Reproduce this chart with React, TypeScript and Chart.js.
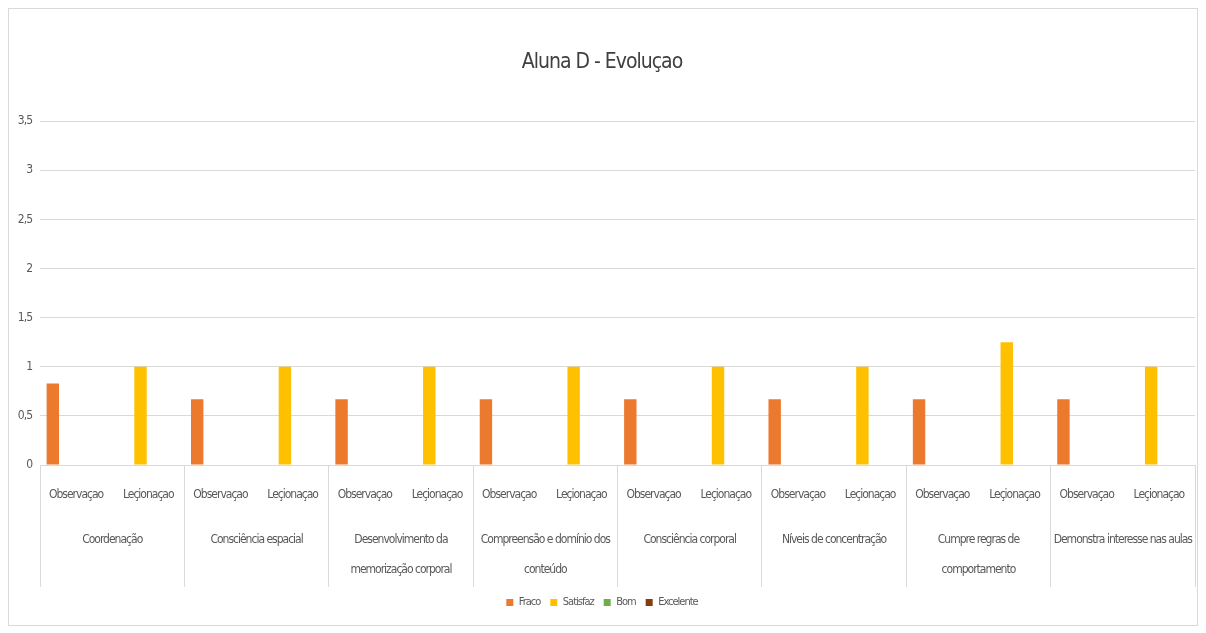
import { useEffect, useRef } from "react";
import { Chart, registerables } from "chart.js";

Chart.register(...registerables);

const chartTitle = "Aluna D - Evoluçao";
const phases = ["Observaçao", "Leçionaçao"];
const groups: (string | string[])[] = [
  "Coordenação",
  "Consciência espacial",
  ["Desenvolvimento da", "memorização corporal"],
  ["Compreensão e domínio dos", "conteúdo"],
  "Consciência corporal",
  "Níveis de concentração",
  ["Cumpre regras de", "comportamento"],
  "Demonstra interesse nas aulas",
];
const seriesNames = ["Fraco", "Satisfaz", "Bom", "Excelente"];
const seriesColors = ["#EB7A2E", "#FFC000", "#70AD47", "#843C0C"];

// one value per (group, phase) pair, in label order
const fraco = [0.83, null, 0.67, null, 0.67, null, 0.67, null, 0.67, null, 0.67, null, 0.67, null, 0.67, null];
const satisfaz = [null, 1, null, 1, null, 1, null, 1, null, 1, null, 1, null, 1.25, null, 1];
const bom = [null, null, null, null, null, null, null, null, null, null, null, null, null, null, null, null];
const excelente = [null, null, null, null, null, null, null, null, null, null, null, null, null, null, null, null];

const yMin = 0;
const yMax = 3.5;
const yStep = 0.5;

const FONT = "'DejaVu Sans Condensed', 'Liberation Sans Narrow', sans-serif";
const TEXT = "#595959";
const LINE = "#d9d9d9";

// tighter letter spacing for every text drawn on the canvas
const condensedText = {
  id: "condensedText",
  beforeLayout(chart: any) {
    chart.ctx.letterSpacing = "-1px";
  },
  beforeDraw(chart: any) {
    chart.ctx.letterSpacing = "-1px";
  },
};

export default function App() {
  const canvasRef = useRef<HTMLCanvasElement | null>(null);

  useEffect(() => {
    if (!canvasRef.current) return;
    const labels = groups.flatMap(() => phases);
    const values = [fraco, satisfaz, bom, excelente];

    const chart = new Chart(canvasRef.current, {
      type: "bar",
      data: {
        labels,
        datasets: seriesNames.map((name, i) => ({
          label: name,
          data: values[i],
          backgroundColor: seriesColors[i],
          borderWidth: 0,
          categoryPercentage: 0.86,
          barPercentage: 0.8,
        })),
      },
      plugins: [condensedText],
      options: {
        animation: false,
        responsive: true,
        maintainAspectRatio: false,
        layout: { padding: { left: 0, right: 2, top: 0, bottom: 7 } },
        plugins: {
          title: {
            display: true,
            text: chartTitle,
            color: "#404040",
            font: { family: FONT, size: 21, weight: "normal" },
            padding: { top: 41, bottom: 46 },
          },
          legend: {
            position: "bottom",
            labels: {
              boxWidth: 7,
              boxHeight: 7,
              color: TEXT,
              padding: 10,
              font: { family: FONT, size: 11 },
            },
          },
          tooltip: { enabled: false },
        },
        scales: {
          y: {
            min: yMin,
            max: yMax,
            ticks: {
              stepSize: yStep,
              color: TEXT,
              padding: 8,
              font: { family: FONT, size: 12 },
              callback: (v: any) => String(v).replace(".", ","),
            },
            grid: { color: LINE, drawTicks: false },
            border: { display: false },
            afterFit: (s: any) => {
              s.width = 31;
            },
          },
          x: {
            position: "bottom",
            grid: {
              offset: true,
              drawOnChartArea: false,
              tickLength: 44,
              color: (ctx: any) =>
                ctx.index === undefined || ctx.index % 2 === 0 ? LINE : "rgba(0,0,0,0)",
            },
            border: { display: true, color: LINE },
            ticks: {
              autoSkip: false,
              maxRotation: 0,
              minRotation: 0,
              padding: -21,
              color: TEXT,
              font: { family: FONT, size: 12 },
            },
            afterFit: (s: any) => {
              s.height = 42;
            },
          },
          x2: {
            type: "category",
            position: "bottom",
            labels: groups as any,
            offset: true,
            grid: {
              offset: true,
              drawOnChartArea: false,
              tickLength: 80,
              color: LINE,
            },
            border: { display: false },
            ticks: {
              autoSkip: false,
              maxRotation: 0,
              minRotation: 0,
              padding: -62,
              color: TEXT,
              font: { family: FONT, size: 12, lineHeight: "30px" },
            },
            afterFit: (s: any) => {
              s.height = 80;
            },
          },
        },
      } as any,
    });

    return () => chart.destroy();
  }, []);

  return (
    <div
      style={{
        width: 1190,
        height: 618,
        border: `1px solid ${LINE}`,
        boxSizing: "border-box",
        background: "#fff",
      }}
    >
      <canvas ref={canvasRef} />
    </div>
  );
}
